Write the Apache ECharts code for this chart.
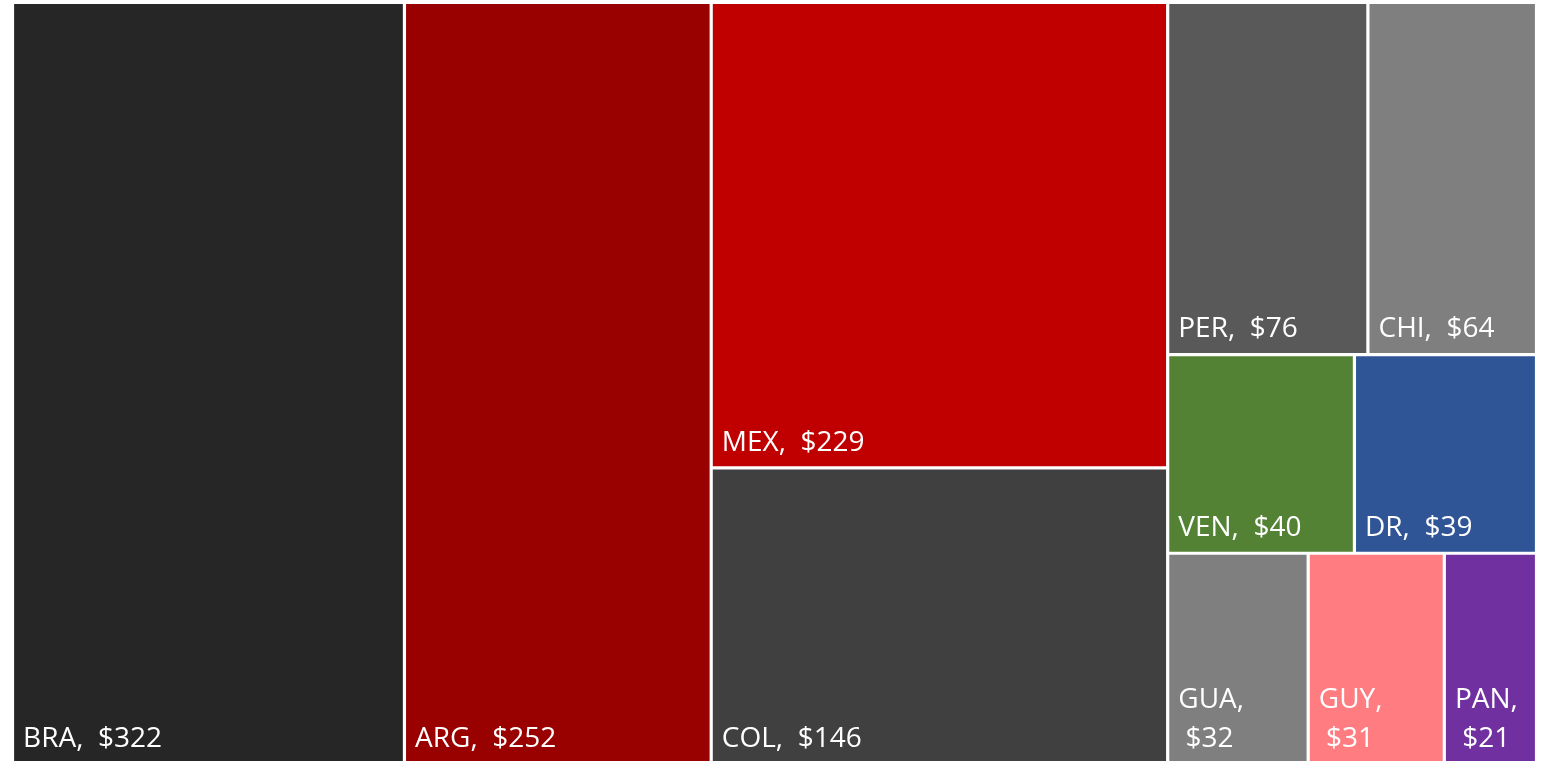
<!DOCTYPE html>
<html>
<head>
<meta charset="utf-8">
<script src="https://cdn.jsdelivr.net/npm/echarts@6/dist/echarts.min.js"></script>
<style>
html,body{margin:0;padding:0;background:#fff;}
#chart{width:1542px;height:761px;}
</style>
</head>
<body>
<div id="chart"></div>
<script>
const countries = ['BRA', 'ARG', 'MEX', 'COL', 'PER', 'CHI', 'VEN', 'DR', 'GUA', 'GUY', 'PAN'];
const values = [322, 252, 229, 146, 76, 64, 40, 39, 32, 31, 21];
const colors = ['#262626', '#990000', '#c00000', '#404040', '#595959', '#7f7f7f', '#548235', '#2f5597', '#7f7f7f', '#ff7c80', '#7030a0'];
// grouping of the tiles (indices into the arrays above), as arranged in the reference
const groups = [0, 1, [2, 3], [[4, 5], [6, 7], [8, 9, 10]]];

function leaf(i) {
  return {
    name: countries[i],
    value: values[i],
    itemStyle: { color: colors[i], borderWidth: 1.6, borderColor: '#ffffff' }
  };
}
function build(g, key) {
  if (typeof g === 'number') return leaf(g);
  const children = g.map((c, k) => build(c, key + '_' + k));
  return { name: key, children: children };
}
const treeData = groups.map((g, k) => build(g, 'g' + k));

const chart = echarts.init(document.getElementById('chart'), null, { renderer: 'canvas' });
chart.setOption({
  animation: false,
  series: [{
    type: 'treemap',
    left: 12.5,
    top: 2.5,
    right: 5.5,
    bottom: -3.5,
    sort: false,
    squareRatio: 0.9,
    roam: false,
    nodeClick: false,
    breadcrumb: { show: false },
    visibleMin: 0,
    itemStyle: { borderWidth: 0, gapWidth: 0, borderColor: '#ffffff' },
    label: {
      show: true,
      position: 'insideBottomLeft',
      color: '#ffffff',
      fontFamily: 'Open Sans',
      fontSize: 28,
      lineHeight: 39,
      padding: [0, 0, 4, 9],
      overflow: 'none',
      formatter: function (p) {
        return p.value < 35 ? p.name + ',\n $' + p.value : p.name + ',  $' + p.value;
      }
    },
    upperLabel: { show: false },
    data: treeData
  }]
});
</script>
</body>
</html>
